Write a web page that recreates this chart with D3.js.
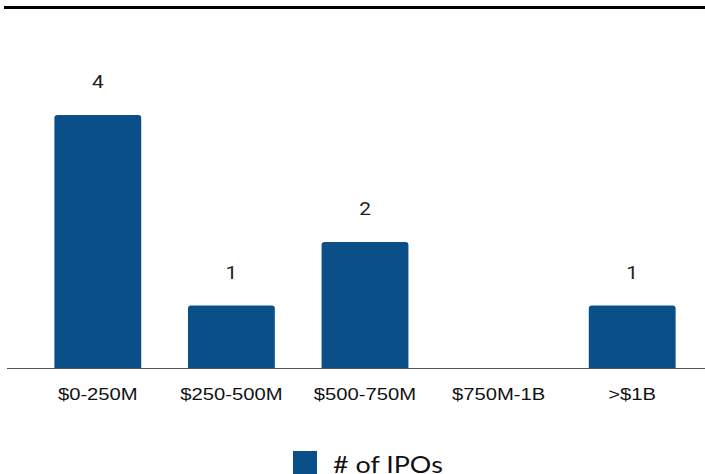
<!DOCTYPE html>
<html>
<head>
<meta charset="utf-8">
<script src="https://cdn.jsdelivr.net/npm/d3@7"></script>
<style>
  html, body { margin: 0; padding: 0; background: #fff; }
  svg { display: block; }
</style>
</head>
<body>
<svg id="chart" width="705" height="474"></svg>
<script>
// IPO count by deal size
const categories = ["$0-250M", "$250-500M", "$500-750M", "$750M-1B", ">$1B"];
const ipoCounts = [4, 1, 2, 0, 1];
const seriesName = "# of IPOs";

const W = 705, H = 474;
const barColor = "#0b4f89";
const svg = d3.select("#chart");

const x = d3.scaleBand()
  .domain(categories)
  .range([31, 699])
  .paddingInner(0.35)
  .paddingOuter(0.175);

const baseY = 369;
const y = d3.scaleLinear().domain([0, 4]).range([baseY, 115]);

// heavy rule across the top
svg.append("rect")
  .attr("x", 4).attr("y", 6)
  .attr("width", W - 4).attr("height", 3)
  .attr("fill", "#000");

// bars with slightly rounded top corners
const r = 3;
function barPath(d, i) {
  const x0 = x(categories[i]), w = x.bandwidth();
  const top = y(d), bot = y(0);
  if (bot - top <= 0) return "";
  return `M${x0},${bot} V${top + r} Q${x0},${top} ${x0 + r},${top} H${x0 + w - r} Q${x0 + w},${top} ${x0 + w},${top + r} V${bot} Z`;
}
svg.append("g").selectAll("path")
  .data(ipoCounts)
  .join("path")
  .attr("d", barPath)
  .attr("fill", barColor);

// baseline
svg.append("line")
  .attr("x1", 7).attr("x2", W)
  .attr("y1", baseY - 0.5).attr("y2", baseY - 0.5)
  .attr("stroke", "#555").attr("stroke-width", 1.2);

// value labels with white halo
svg.append("g").selectAll("text")
  .data(ipoCounts.map((v, i) => ({ v, c: categories[i] })).filter(d => d.v > 0))
  .join("text")
  .attr("transform", d => `translate(${x(d.c) + x.bandwidth() / 2},${y(d.v) - 27}) scale(1.1,1)`)
  .attr("text-anchor", "middle")
  .attr("font-family", "Roboto, sans-serif")
  .attr("font-size", 19)
  .attr("fill", "#222")
  .attr("stroke", "#fff")
  .attr("stroke-width", 3)
  .attr("paint-order", "stroke")
  .text(d => d.v);

// category axis
const axis = svg.append("g").attr("transform", `translate(0,${baseY})`)
  .call(d3.axisBottom(x).tickSize(0).tickPadding(0));
axis.select(".domain").remove();
axis.selectAll(".tick text")
  .attr("y", 0).attr("dy", 0)
  .attr("transform", "translate(0,31) scale(1.17,1)")
  .attr("font-family", "'Liberation Sans', Arial, sans-serif")
  .attr("font-size", 17.3)
  .attr("fill", "#111");

// legend
const lg = svg.append("g");
lg.append("rect")
  .attr("x", 293).attr("y", 451)
  .attr("width", 24).attr("height", 24)
  .attr("fill", barColor);
lg.append("text")
  .attr("transform", "translate(333,473) scale(1.12,1)")
  .attr("font-family", "Lato, 'Open Sans', sans-serif")
  .attr("font-size", 24)
  .attr("fill", "#111")
  .text(seriesName);
</script>
</body>
</html>
